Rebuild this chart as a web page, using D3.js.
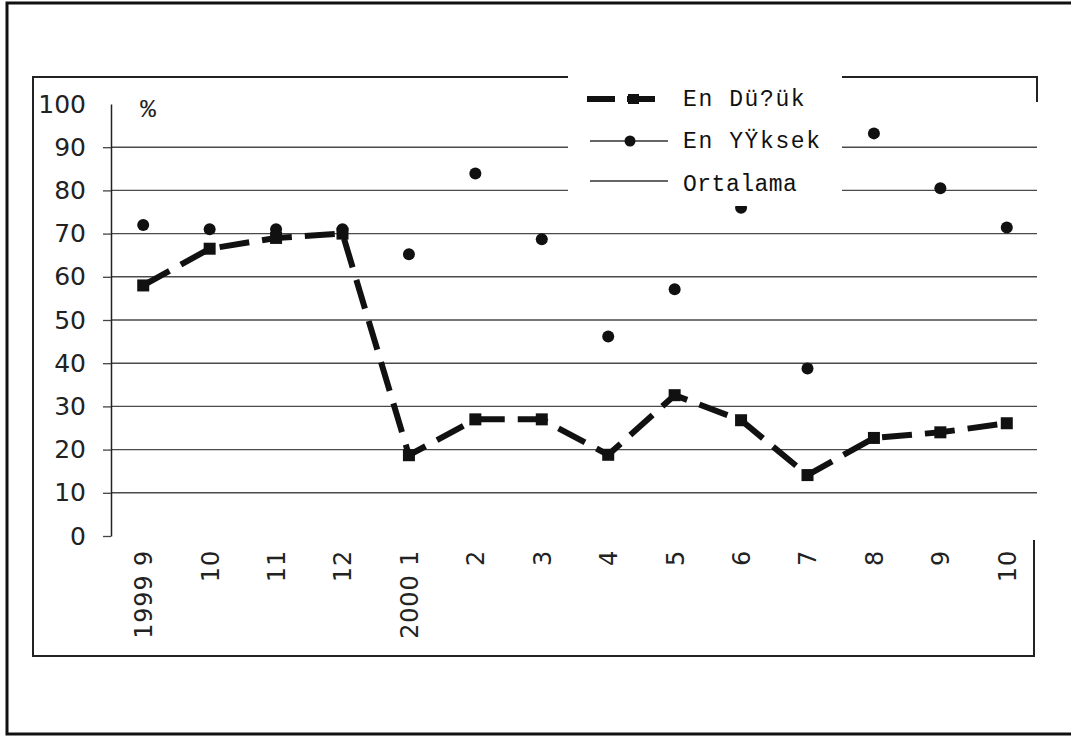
<!DOCTYPE html>
<html>
<head>
<meta charset="utf-8">
<script src="https://cdn.jsdelivr.net/npm/d3@7"></script>
<style>
  html, body { margin: 0; padding: 0; background: #fff; }
  svg { display: block; }
</style>
</head>
<body>
<svg id="chart" width="1071" height="738"></svg>
<script>
// ---- data ----
const categories = ["1999 9", "10", "11", "12", "2000 1", "2", "3", "4", "5", "6", "7", "8", "9", "10"];
const enDusuk  = [58, 66.5, 69, 70, 18.7, 27, 27, 18.8, 32.6, 26.8, 14.1, 22.7, 24, 26.1];
const enYuksek = [72, 71, 71, 71, 65.2, 83.9, 68.7, 46.2, 57.1, 76, 38.8, 93.2, 80.5, 71.4];
const yTicks = [0, 10, 20, 30, 40, 50, 60, 70, 80, 90, 100];
const legendLabels = ["En Dü?ük", "En YŸksek", "Ortalama"];
const unitLabel = "%";

// ---- layout ----
const svg = d3.select("#chart");
const plotLeft = 111, plotRight = 1037, plotTop = 104, plotBottom = 536;
const boxLeft = 33, boxTop = 77, boxRight = 1037, boxBottom = 656;

const x = d3.scalePoint().domain(d3.range(categories.length)).range([110, 1040]).padding(0.5);
const y = d3.scaleLinear().domain([0, 100]).range([plotBottom, plotTop]);

// outer frame (left, top, bottom)
svg.append("path")
  .attr("d", `M1071,3 L7,3 L7,734 L1071,734`)
  .attr("fill", "none").attr("stroke", "#111").attr("stroke-width", 3);

// inner plot box
svg.append("path")
  .attr("d", `M${boxRight},102 L${boxRight},${boxTop} L${boxLeft},${boxTop} L${boxLeft},${boxBottom} L${boxRight - 3},${boxBottom} L${boxRight - 3},540`)
  .attr("fill", "none").attr("stroke", "#222").attr("stroke-width", 2);

// gridlines (10..90)
svg.append("g").selectAll("line")
  .data(yTicks.filter(d => d > 0 && d < 100))
  .join("line")
  .attr("x1", plotLeft).attr("x2", plotRight)
  .attr("y1", d => y(d)).attr("y2", d => y(d))
  .attr("stroke", "#4a4a4a").attr("stroke-width", 1.4);

// y axis
const yAxis = d3.axisLeft(y).tickValues(yTicks).tickSizeInner(8).tickSizeOuter(0).tickPadding(17);
const gy = svg.append("g").attr("transform", `translate(${plotLeft},0)`).call(yAxis);
gy.select(".domain").attr("stroke", "#222").attr("stroke-width", 1.5);
gy.selectAll(".tick line").attr("stroke", "#444").attr("stroke-width", 1.3);
gy.selectAll(".tick line").filter(d => d === 100).remove();
gy.selectAll(".tick text")
  .attr("font-family", "DejaVu Sans, Verdana, sans-serif")
  .attr("font-size", 25).attr("fill", "#222");

// x axis labels (rotated)
const xAxis = d3.axisBottom(x).tickSize(0).tickFormat(i => categories[i]);
const gx = svg.append("g").attr("transform", `translate(0,${plotBottom})`).call(xAxis);
gx.select(".domain").remove();
gx.selectAll(".tick text")
  .attr("font-family", "DejaVu Sans, Verdana, sans-serif")
  .attr("font-size", 24).attr("fill", "#222")
  .attr("letter-spacing", 0.8)
  .attr("text-anchor", "end")
  .attr("transform", "translate(0,14) rotate(-90)")
  .attr("x", 0).attr("y", 0).attr("dy", "0.35em");

// "%" label
svg.append("text").attr("x", 148).attr("y", 117)
  .attr("text-anchor", "middle")
  .attr("font-family", "Liberation Mono, monospace").attr("font-size", 26)
  .attr("fill", "#222").text(unitLabel);

// En Yüksek points
svg.append("g").selectAll("circle")
  .data(enYuksek)
  .join("circle")
  .attr("cx", (d, i) => x(i)).attr("cy", d => y(d))
  .attr("r", 6).attr("fill", "#111");

// En Düşük dashed line with squares
const line = d3.line().x((d, i) => x(i)).y(d => y(d));
svg.append("path")
  .datum(enDusuk)
  .attr("d", line)
  .attr("fill", "none").attr("stroke", "#111").attr("stroke-width", 6)
  .attr("stroke-dasharray", "30,13");
svg.append("g").selectAll("rect")
  .data(enDusuk)
  .join("rect")
  .attr("x", (d, i) => x(i) - 6).attr("y", d => y(d) - 6)
  .attr("width", 12).attr("height", 12).attr("fill", "#111");

// legend (white box covering plot top)
const lg = svg.append("g");
lg.append("rect").attr("x", 568).attr("y", 70).attr("width", 274).attr("height", 136).attr("fill", "#fff");
const legendY = [99, 141, 181];
const textY = [106, 148, 191];
// entry 1
lg.append("line").attr("x1", 587).attr("x2", 667).attr("y1", legendY[0]).attr("y2", legendY[0])
  .attr("stroke", "#111").attr("stroke-width", 6).attr("stroke-dasharray", "28,12");
lg.append("rect").attr("x", 628).attr("y", legendY[0] - 5).attr("width", 11).attr("height", 10).attr("fill", "#111");
// entry 2
lg.append("line").attr("x1", 590).attr("x2", 668).attr("y1", legendY[1]).attr("y2", legendY[1])
  .attr("stroke", "#333").attr("stroke-width", 1.5);
lg.append("circle").attr("cx", 630).attr("cy", legendY[1]).attr("r", 5.5).attr("fill", "#111");
// entry 3
lg.append("line").attr("x1", 590).attr("x2", 668).attr("y1", legendY[2]).attr("y2", legendY[2])
  .attr("stroke", "#333").attr("stroke-width", 1.5);
lg.selectAll("text.lab")
  .data(legendLabels)
  .join("text")
  .attr("class", "lab")
  .attr("x", 683).attr("y", (d, i) => textY[i])
  .attr("font-family", "Liberation Mono, Courier New, monospace")
  .attr("font-size", 23)
  .attr("letter-spacing", (d, i) => i === 2 ? 0.5 : 1.6)
  .attr("fill", "#111")
  .text(d => d);
</script>
</body>
</html>
